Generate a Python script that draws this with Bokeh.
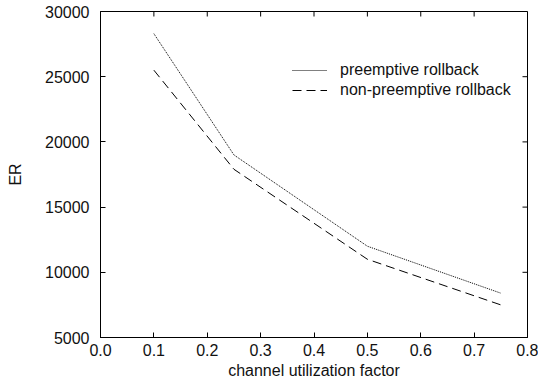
import math
from bokeh.plotting import figure
from bokeh.models import FixedTicker, Range1d, Legend, LegendItem
from bokeh.embed import file_html
from bokeh.resources import INLINE

# data
x_vals = [0.1, 0.25, 0.5, 0.75]
preemptive = [28300, 19000, 12000, 8400]
non_preemptive = [25500, 17900, 11000, 7500]

x_ticks = [0.0, 0.1, 0.2, 0.3, 0.4, 0.5, 0.6, 0.7, 0.8]
x_tick_labels = ["0.0", "0.1", "0.2", "0.3", "0.4", "0.5", "0.6", "0.7", "0.8"]
y_ticks = [5000, 10000, 15000, 20000, 25000, 30000]
y_tick_labels = ["5000", "10000", "15000", "20000", "25000", "30000"]

FONT = "Liberation Sans"
FS = "16px"

p = figure(width=538, height=385, output_backend="svg", toolbar_location=None,
           x_range=Range1d(x_ticks[0], x_ticks[-1]), y_range=Range1d(y_ticks[0], y_ticks[-1]),
           min_border_left=100, min_border_right=11, min_border_top=11, min_border_bottom=48,
           background_fill_color="white", border_fill_color="white")
p.title.visible = False
p.outline_line_color = "black"
p.outline_line_width = 1
p.grid.visible = False

def style_axis(ax, ticks, labels):
    ax.ticker = FixedTicker(ticks=ticks)
    ax.major_label_overrides = {t: l for t, l in zip(ticks, labels)}
    ax.major_tick_in = 5
    ax.major_tick_out = 0
    ax.minor_tick_in = 0
    ax.minor_tick_out = 0
    ax.major_tick_line_color = "black"
    ax.axis_line_color = "black"
    ax.major_label_text_font = FONT
    ax.major_label_text_font_size = FS
    ax.major_label_text_color = "#111111"
    ax.axis_label_text_font = FONT
    ax.axis_label_text_font_size = FS
    ax.axis_label_text_font_style = "normal"
    ax.axis_label_text_color = "#111111"

xa = p.xaxis[0]
style_axis(xa, x_ticks, x_tick_labels)
xa.axis_label = "channel utilization factor"
xa.major_label_standoff = 6
xa.axis_label_standoff = 3

ya = p.yaxis[0]
style_axis(ya, y_ticks, y_tick_labels)
ya.axis_label = "ER"
ya.major_label_standoff = 11
ya.axis_label_standoff = 18

# mirrored ticks on top and right edges
p.ray(x=x_ticks, y=[y_ticks[-1]] * len(x_ticks), length=5, length_units="screen",
      angle=-math.pi / 2, line_color="black", line_width=1)
p.ray(x=[x_ticks[-1]] * len(y_ticks), y=y_ticks, length=5, length_units="screen",
      angle=math.pi, line_color="black", line_width=1)

r1 = p.line(x_vals, preemptive, line_color="black", line_width=1, line_dash="1 1")
r2 = p.line(x_vals, non_preemptive, line_color="black", line_width=1, line_dash="9 5")

legend = Legend(items=[LegendItem(label="preemptive rollback", renderers=[r1]),
                       LegendItem(label="non-preemptive rollback", renderers=[r2])],
                location=(192, 237), orientation="vertical")
legend.border_line_color = None
legend.background_fill_alpha = 0
legend.padding = 0
legend.margin = 0
legend.spacing = 0
legend.glyph_width = 35
legend.glyph_height = 20
legend.label_height = 20
legend.label_standoff = 13
legend.label_text_font = FONT
legend.label_text_font_size = FS
legend.label_text_color = "#111111"
p.add_layout(legend, "center")

open("out.html", "w").write(file_html(p, INLINE))
